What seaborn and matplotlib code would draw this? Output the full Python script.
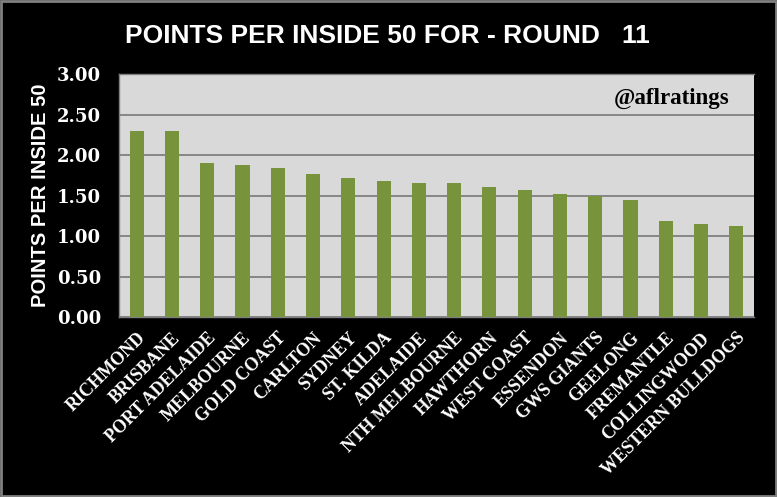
import matplotlib
matplotlib.use("Agg")
import matplotlib.pyplot as plt
import seaborn as sns
import pandas as pd

teams = ["RICHMOND", "BRISBANE", "PORT ADELAIDE", "MELBOURNE", "GOLD COAST", "CARLTON",
         "SYDNEY", "ST. KILDA", "ADELAIDE", "NTH MELBOURNE", "HAWTHORN", "WEST COAST",
         "ESSENDON", "GWS GIANTS", "GEELONG", "FREMANTLE", "COLLINGWOOD", "WESTERN BULLDOGS"]
values = [2.30, 2.30, 1.90, 1.88, 1.84, 1.77, 1.72, 1.68, 1.65, 1.65, 1.61, 1.57,
          1.52, 1.50, 1.45, 1.18, 1.15, 1.13]
yticks = [0.0, 0.5, 1.0, 1.5, 2.0, 2.5, 3.0]

df = pd.DataFrame({"team": teams, "value": values})

sns.set_theme(style="white")
plt.rcParams["font.family"] = ["Liberation Serif", "DejaVu Serif"]

fig = plt.figure(figsize=(7.77, 4.97), dpi=100, facecolor="black")
ax = fig.add_axes([0.1532, 0.362, 0.8172, 0.489])
ax.set_facecolor("#D9D9D9")

sns.barplot(data=df, x="team", y="value", color="#77933C", width=0.4,
            saturation=1, linewidth=0, ax=ax, zorder=3)

ax.set_ylim(0, 3.0)
ax.set_xlim(-0.5, len(teams) - 0.5)
ax.set_yticks(yticks)
ax.set_yticklabels([f"{v:.2f}" for v in yticks], fontsize=13, fontweight="bold", color="white",
                   family=["DejaVu Serif"])
ax.grid(axis="y", color="#808080", linewidth=1.3, zorder=1)
ax.set_axisbelow(True)
ax.tick_params(axis="y", length=0, pad=13)
ax.tick_params(axis="x", length=0, pad=9)
ax.set_xticks(range(len(teams)))
ax.set_xticklabels(teams, rotation=45, ha="right", rotation_mode="anchor",
                   fontsize=13, fontweight="bold", color="white")
ax.set_xlabel("")
ax.set_ylabel("POINTS PER INSIDE 50", fontsize=14.5, fontweight="heavy", color="white",
              family=["Liberation Sans", "DejaVu Sans"], labelpad=5)
for side in ["left", "bottom", "top"]:
    ax.spines[side].set_color("#808080")
    ax.spines[side].set_linewidth(1)
ax.spines["right"].set_visible(False)

ax.text(0.962, 0.90, "@aflratings", transform=ax.transAxes, ha="right", va="center",
        fontsize=16.5, fontweight="bold", color="black")

fig.text(0.498, 0.928, "POINTS PER INSIDE 50 FOR - ROUND   11", ha="center", va="center",
         fontsize=19, fontweight="bold", color="white",
         family=["Liberation Sans", "DejaVu Sans"])

border = plt.Rectangle((0.0015, 0.002), 0.997, 0.996, transform=fig.transFigure,
                       fill=False, edgecolor="#808080", linewidth=2)
fig.patches.append(border)

fig.savefig("out.png", dpi=100, facecolor="black")
